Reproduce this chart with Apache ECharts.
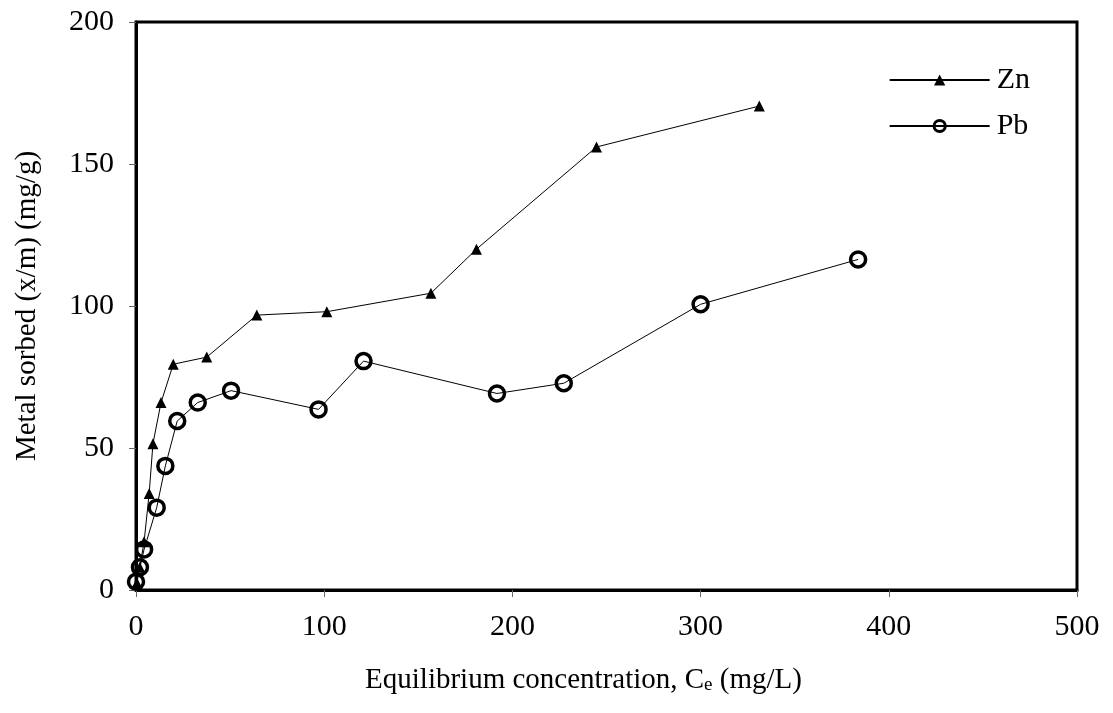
<!DOCTYPE html>
<html>
<head>
<meta charset="utf-8">
<script src="https://cdn.jsdelivr.net/npm/echarts@6/dist/echarts.min.js"></script>
<style>html,body{margin:0;padding:0;background:#fff;}#c{width:1113px;height:713px;}</style>
</head>
<body>
<div id="c"></div>
<script>
// Data
const znX = [0.5, 2, 4.3, 7, 9, 13.3, 19.8, 37.6, 64.2, 101.4, 156.7, 180.9, 244.7, 331.2];
const znY = [2.5, 8, 17, 34, 51.5, 66, 79.5, 82, 96.8, 98, 104.5, 120, 156, 170.4];
const pbX = [0, 2.1, 4.3, 11, 15.6, 21.9, 32.8, 50.5, 97, 120.9, 191.8, 227.3, 300, 383.7];
const pbY = [2.9, 8, 14.3, 29, 43.7, 59.5, 66, 70.2, 63.6, 80.6, 69.2, 72.8, 100.6, 116.4];
const seriesNames = ['Zn', 'Pb'];
const xTitle = 'Equilibrium concentration, C{sub|e} (mg/L)';
const yTitle = 'Metal sorbed (x/m) (mg/g)';

const pair = (xs, ys) => xs.map((x, i) => [x, ys[i]]);
const font = 'Liberation Serif, Times New Roman, serif';

const chart = echarts.init(document.getElementById('c'), null, {renderer: 'canvas'});
chart.setOption({
  animation: false,
  backgroundColor: '#fff',
  textStyle: {fontFamily: font},
  grid: {left: 136, right: 36, top: 22, bottom: 123, show: true, borderColor: '#000', borderWidth: 3, backgroundColor: 'transparent'},
  legend: {
    data: [
      {name: seriesNames[0]},
      {name: seriesNames[1], itemStyle: {borderWidth: 3}}
    ],
    orient: 'vertical',
    right: 78,
    top: 60,
    itemWidth: 100,
    itemHeight: 14,
    itemGap: 16,
    textStyle: {fontFamily: font, fontSize: 30, color: '#000', padding: [0, 0, 0, 2]}
  },
  xAxis: {
    type: 'value', min: 0, max: 500, interval: 100,
    axisLine: {show: true, lineStyle: {color: '#000', width: 3}},
    axisTick: {show: true, length: 7, lineStyle: {color: '#666', width: 1}},
    splitLine: {show: false},
    axisLabel: {fontFamily: font, fontSize: 30, color: '#000', margin: 22},
    name: xTitle,
    nameLocation: 'middle',
    nameGap: 76,
    nameTextStyle: {fontFamily: font, fontSize: 29, color: '#000', padding: [0, 46, 0, 0],
      rich: {sub: {fontFamily: font, fontSize: 19, color: '#000', padding: [10, 0, 0, 0]}}}
  },
  yAxis: {
    type: 'value', min: 0, max: 200, interval: 50,
    axisLine: {show: true, lineStyle: {color: '#000', width: 3}},
    axisTick: {show: true, length: 7, lineStyle: {color: '#666', width: 1}},
    splitLine: {show: false},
    axisLabel: {fontFamily: font, fontSize: 30, color: '#000', margin: 22},
    name: yTitle,
    nameLocation: 'middle',
    nameGap: 94,
    nameTextStyle: {fontFamily: font, fontSize: 29, color: '#000'}
  },
  series: [
    {
      name: 'Zn', type: 'line', data: pair(znX, znY),
      symbol: 'triangle', symbolSize: 11,
      lineStyle: {color: '#000', width: 1},
      itemStyle: {color: '#000', borderColor: '#000', borderWidth: 0},
      z: 3
    },
    {
      name: 'Pb', type: 'line', data: pair(pbX, pbY),
      symbol: 'circle', symbolSize: 15,
      lineStyle: {color: '#000', width: 1},
      itemStyle: {color: 'rgba(0,0,0,0)', borderColor: '#000', borderWidth: 3.5},
      z: 4
    }
  ]
});
</script>
</body>
</html>
